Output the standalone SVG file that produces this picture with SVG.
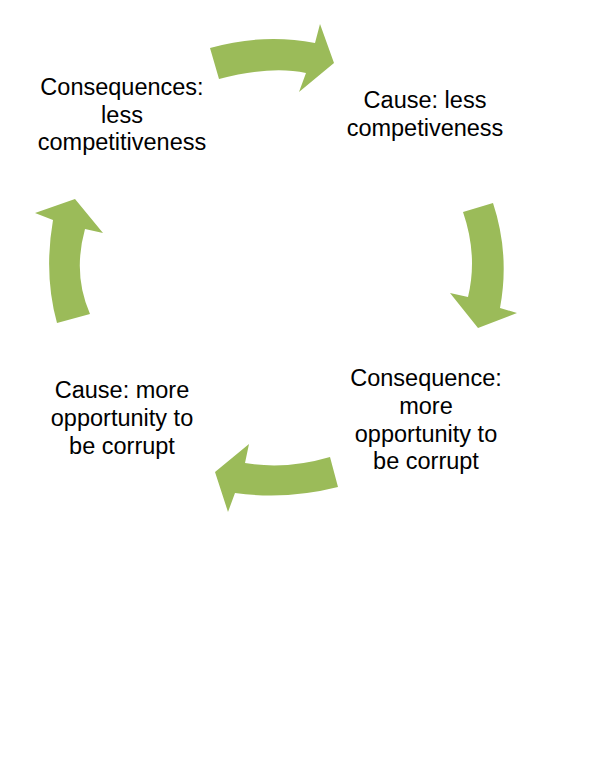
<svg xmlns="http://www.w3.org/2000/svg" width="600" height="775" viewBox="0 0 600 775">
<style>
.arrow{fill:#9BBB59;stroke:none}
.lbl{font-family:"Liberation Sans",Arial,sans-serif;font-size:23.5px;fill:#000;text-anchor:middle}
</style>
<rect width="600" height="775" fill="#fff"/>
<g id="connectors">
<path class="arrow" d="M210,48 Q263.5,33 315,43 L320,24 L334,63 L299,92 L306,73 Q271,65.4 219,79 Z"/>
<path class="arrow" d="M463,212 L493,203 Q510,254.5 500,308 L517,313 L478,328 L450,293 L468,297 Q478,255.5 463,212 Z"/>
<path class="arrow" d="M330,457 L338,487 Q287,500 235,493 L228,512 L215,472 L249,444 L245,463 Q286,470 330,457 Z"/>
<path class="arrow" d="M57,323 Q43.6,274.5 53,220 L35,213 L75,199 L103,233 L85,229 Q72.5,274.5 90,314 Z"/>
</g>
<g id="node1">
<text class="lbl" x="122" y="95">Consequences:</text>
<text class="lbl" x="122" y="123">less</text>
<text class="lbl" x="122" y="150">competitiveness</text>
</g>
<g id="node2">
<text class="lbl" x="425" y="108">Cause: less</text>
<text class="lbl" x="425" y="136">competiveness</text>
</g>
<g id="node3">
<text class="lbl" x="426" y="386">Consequence:</text>
<text class="lbl" x="426" y="414">more</text>
<text class="lbl" x="426" y="442">opportunity to</text>
<text class="lbl" x="426" y="469">be corrupt</text>
</g>
<g id="node4">
<text class="lbl" x="122" y="398">Cause: more</text>
<text class="lbl" x="122" y="426">opportunity to</text>
<text class="lbl" x="122" y="454">be corrupt</text>
</g>
</svg>
